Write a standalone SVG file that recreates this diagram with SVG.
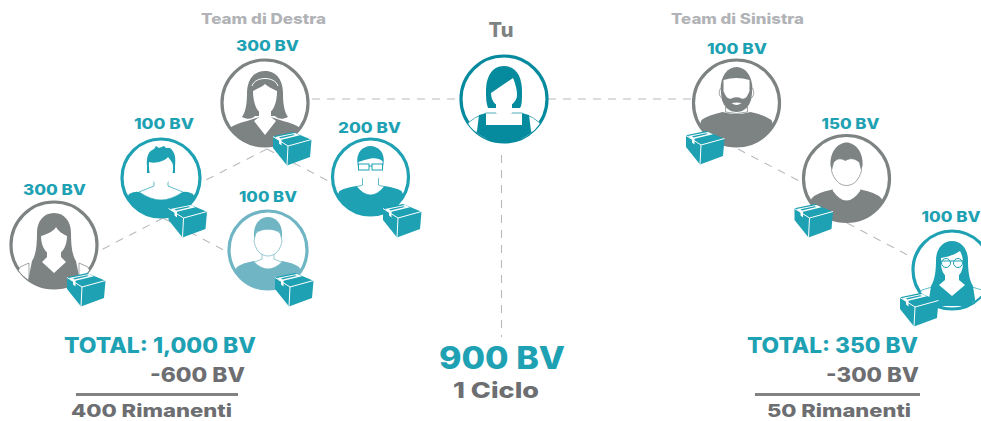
<svg xmlns="http://www.w3.org/2000/svg" xmlns:xlink="http://www.w3.org/1999/xlink" width="981" height="421" viewBox="0 0 981 421">
<style>
text{font-family:Inter,"Liberation Sans",sans-serif;font-weight:800}
.bv{font-size:15px;fill:#1da1b3}
.team{font-size:14.5px;fill:#b1b3b6}
.tot{font-size:21px;fill:#1da1b3}
.sub{font-size:20px;fill:#6d6e71}
.rem{font-size:18px;fill:#6d6e71}
.ring{fill:#fff;stroke-width:3.2}
.dash{stroke:#b8babc;stroke-width:1.1;stroke-dasharray:8 7;fill:none}
.rule{stroke:#808284;stroke-width:3}
.w{fill:#fff}
.ln{fill:#fff;stroke:currentColor;stroke-width:.7}
.grey{color:#7d8282;fill:#7d8282}.grey .ring{stroke:#7d8282}
.teal{color:#1da1b3;fill:#1da1b3}.teal .ring{stroke:#1da1b3}
.light{color:#6fb5c4;fill:#6fb5c4}.light .ring{stroke:#6fb5c4}
.dark{color:#058a9e;fill:#058a9e}.dark .ring{stroke:#058a9e}
</style>
<defs>
<clipPath id="c44"><circle r="43.5"/></clipPath>
<clipPath id="c39"><circle r="38.5"/></clipPath>
<g id="box">
<path fill="#1da1b3" d="M0 4.3 20 0 38.5 7.7 37 25 14 33.5 0 16Z"/>
<path fill="none" stroke="#fff" stroke-width="1" d="M0 4.5 15 14 38.5 7.5M15 14 14 33.5"/>
<path fill="#fff" d="M2 5 22 1 27 3.2 8.5 7.8 8.5 13.5 6 11.5V8.3Z"/>
<path fill="#1da1b3" d="M6 5.3 20 2.3 22 3 7.5 6.5Z"/>
</g>
</defs>

<g id="connectors">
<path class="dash" d="M312 99H459"/>
<path class="dash" d="M548 99H692"/>
<path class="dash" d="M501.500 155V337"/>
<path class="dash" d="M267 149 200 183"/>
<path class="dash" d="M267 149 332 183"/>
<path class="dash" d="M163 218 97 252"/>
<path class="dash" d="M163 218 229 253"/>
<path class="dash" d="M738 149 803 183"/>
<path class="dash" d="M847 223 913 258"/>
</g>

<g id="node-tu">
<text x="501" y="37" text-anchor="middle" style="font-size:20px;fill:#7d8282">Tu</text>
<g class="dark" transform="translate(504 99)">
<circle class="ring" r="43"/>
<g clip-path="url(#c44)">
<path class="ln" d="M-36 24Q-30 18-18 14L18 14Q30 18 36 24L36 40H-36Z"/>
<path d="M-25 16-18 14.500V26H18V14.500L25 16 27 32 36 44H-36L-27 32Z"/>
<path d="M0-33C13-33 18-21 18-8 18 0 18 6 16 9L-16 9C-18 4-18-2-18-8-18-21-13-33 0-33Z"/>
<path class="w" d="M-8 5V14L0 19 8 14V5Z"/>
<path class="w" d="M-13-6 9-21C12-14 13-8 13-4 13 3 6 8 0 8-7 8-13 3-13-6Z"/>
</g>
</g>
</g>

<g id="node-left-top">
<text class="bv" x="267.500" y="51" text-anchor="middle" textLength="63" lengthAdjust="spacingAndGlyphs">300 BV</text>
<g class="grey" transform="translate(265 103)">
<circle class="ring" r="43"/>
<g clip-path="url(#c44)">
<path d="M-35 25Q-30 21-18 18L-6 14H6L18 18Q30 21 35 25L42 44H-42Z"/>
<path d="M0-32C12-32 18-22 18-10 18 0 19 8 23 14 17 17 13 16 10 13H-10C-13 16-17 17-23 14-19 8-18 0-18-10-18-22-12-32 0-32Z"/>
<path class="w" d="M-6 6H6V14L11 18 0 32-11 18-6 14Z"/>
<path class="w" d="M-12-12C-6-15-2-17 0-19 2-17 6-15 12-12 12 0 8 11 0 11-8 11-12 0-12-12Z"/>
<path fill="none" stroke="#fff" stroke-width="1" d="M-13-17C-10-27 10-27 13-17"/>
</g>
</g>
<use xlink:href="#box" href="#box" x="273" y="132"/>
</g>

<g id="node-left-mid">
<text class="bv" x="164" y="128.500" text-anchor="middle" textLength="60" lengthAdjust="spacingAndGlyphs">100 BV</text>
<g class="teal" transform="translate(161 178)">
<circle class="ring" r="39"/>
<g clip-path="url(#c39)">
<path d="M-32 16Q-26 13-22 14Q-10 22 0 22 10 22 22 14Q26 13 32 16L44 40H-44Z"/>
<path class="ln" d="M-7 2V8L-22 14Q-10 22 0 22 10 22 22 14L7 8V2Z"/>
<path d="M-14-12C-15-22-12-27-7-29L-5-32-2-30 3-32 5-30 9-30C14-26 15-20 14-12L14-5H-14Z"/>
<path class="w" d="M-12-16C-6-14 4-17 7-21 9-18 12-16 12-12 13 0 6 7 0 7-6 7-13 0-12-16Z"/>
</g>
</g>
<use xlink:href="#box" href="#box" x="168.500" y="204"/>
</g>

<g id="node-left-far">
<text class="bv" x="54.500" y="195" text-anchor="middle" textLength="63" lengthAdjust="spacingAndGlyphs">300 BV</text>
<g class="grey" transform="translate(54 245)">
<circle class="ring" r="43"/>
<g clip-path="url(#c44)">
<path class="ln" d="M-34 22-25 18V44H-44ZM34 22 25 18V44H44Z"/>
<path d="M0-32C11-32 17-23 17-12 17 0 18 10 22 16L26 36V44H-26V36L-22 16C-18 10-17 0-17-12-17-23-11-32 0-32Z"/>
<path class="w" d="M-7 6H7V12L12 17 0 28-12 17-7 12Z"/>
<path class="w" d="M-13-9C-6-11 0-14 2-18 5-13 9-11 13-9 13 3 7 10 0 10-7 10-13 3-13-9Z"/>
</g>
</g>
<use xlink:href="#box" href="#box" x="67" y="273"/>
</g>

<g id="node-left-low">
<text class="bv" x="268" y="202" text-anchor="middle" textLength="58" lengthAdjust="spacingAndGlyphs">100 BV</text>
<g class="light" transform="translate(268 250)">
<circle class="ring" r="39"/>
<g clip-path="url(#c39)">
<path d="M-31 17Q-26 13-14 11 0 24 14 11 26 13 31 17L44 40H-44Z"/>
<path class="ln" d="M-6 1V9Q-10 11-14 12-7 19 0 19 7 19 14 12 10 11 6 9V1Z"/>
<path d="M-14-13C-15-26-8-33 0-33 8-33 15-26 14-13L13-8H-13Z"/>
<path class="ln" d="M-14-10-12-17C-6-22 6-22 12-17L14-10C13 0 7 6 0 6-7 6-13 0-14-10Z"/>
</g>
</g>
<use xlink:href="#box" href="#box" x="275" y="273"/>
</g>

<g id="node-left-right">
<text class="bv" x="369.500" y="133" text-anchor="middle" textLength="63" lengthAdjust="spacingAndGlyphs">200 BV</text>
<g class="teal" transform="translate(370.500 177)">
<circle class="ring" r="38"/>
<g clip-path="url(#c39)">
<path d="M-31 14Q-26 11-14 9 0 20 14 9 26 11 31 14L44 40H-44Z"/>
<path class="ln" d="M-8 1V8Q-10 9-14 9.500-7 18 0 18 7 18 14 9.500 10 9 8 8V1Z"/>
<path d="M-13-13C-15-25-7-31 0-31 7-31 15-25 13-13L12-8H-12Z"/>
<path class="w" d="M-12-15C-6-17 5-22 12-16 13-4 7 6 0 6-7 6-13-4-12-15Z"/>
<rect x="-12" y="-13" width="10.500" height="6" fill="none" stroke="currentColor" stroke-width="1"/>
<rect x="1.500" y="-13" width="10.500" height="6" fill="none" stroke="currentColor" stroke-width="1"/>
<path fill="none" stroke="currentColor" stroke-width="1" d="M-1.500-11H1.500"/>
</g>
</g>
<use xlink:href="#box" href="#box" x="383" y="204"/>
</g>

<g id="node-right-top">
<text class="bv" x="737" y="54" text-anchor="middle" textLength="60" lengthAdjust="spacingAndGlyphs">100 BV</text>
<g class="grey" transform="translate(736.500 103)">
<circle class="ring" r="43"/>
<g clip-path="url(#c44)">
<path d="M-35 17Q-28 12-14 9 0 13 14 9 28 12 35 17L44 44H-44Z"/>
<path class="ln" d="M-11 4V9Q0 12 11 9V4Z"/>
<path d="M-16-13C-16-27-9-36 0-36 9-36 16-27 16-13 16-2 11 9 0 9-11 9-16-2-16-13Z"/>
<path class="w" d="M-13-23Q0-27 13-23V-12Q10-3 5-4.500 0-7-5-4.500-10-3-13-12Z"/>
<path class="w" d="M-5 0Q0-1 5 0 0 4-5 0Z"/>
<path class="ln" d="M-16-15Q-19-9-15-5M16-15Q19-9 15-5"/>
</g>
</g>
<use xlink:href="#box" href="#box" x="686" y="131"/>
</g>

<g id="node-right-mid">
<text class="bv" x="850.500" y="129" text-anchor="middle" textLength="58" lengthAdjust="spacingAndGlyphs">150 BV</text>
<g class="grey" transform="translate(846.500 178.500)">
<circle class="ring" r="43"/>
<g clip-path="url(#c44)">
<path d="M-35 20Q-30 14-14 11 0 28 14 11 30 14 35 20L44 44H-44Z"/>
<path class="w" d="M-8 2V9Q-10 11-14 12-7 22 0 22 7 22 14 12 10 11 8 9V2Z"/>
<path d="M-16-13C-17-27-8-36 0-36 8-36 17-27 16-13L14-6H-14Z"/>
<path class="ln" d="M-15-8-13-16C-8-22-4-19-1-18 4-21 9-20 13-16L15-8C13 0 8 7 0 7-8 7-13 0-15-8Z"/>
</g>
</g>
<use xlink:href="#box" href="#box" x="794.500" y="204"/>
</g>

<g id="node-right-far">
<text class="bv" x="951" y="222" text-anchor="middle" textLength="59" lengthAdjust="spacingAndGlyphs">100 BV</text>
<g class="teal" transform="translate(952 270)">
<circle class="ring" r="39"/>
<g clip-path="url(#c39)">
<path class="ln" d="M-30 20-20 17V40H-44ZM30 20 20 17V40H44Z"/>
<path d="M0-29C10-29 16-20 16-10 16 0 17 10 21 16L24 36H-24L-21 16C-17 10-16 0-16-10-16-20-10-29 0-29Z"/>
<path class="w" d="M-7 4H7V10L13 15 0 26-13 15-7 10Z"/>
<path class="w" d="M-11-12C-4-13 4-16 8-19 10-15 11-12 11-7 11 3 6 8 0 8-6 8-11 3-11-7Z"/>
<path fill="none" stroke="currentColor" stroke-width="1" d="M-13-9H13"/>
<circle cx="-6" cy="-7" r="4.500" fill="none" stroke="currentColor" stroke-width="1"/>
<circle cx="6" cy="-7" r="4.500" fill="none" stroke="currentColor" stroke-width="1"/>
</g>
</g>
<use xlink:href="#box" href="#box" x="900" y="293"/>
</g>

<g id="labels">
<text class="team" x="201" y="24" textLength="125" lengthAdjust="spacingAndGlyphs">Team di Destra</text>
<text class="team" x="671" y="24" textLength="133" lengthAdjust="spacingAndGlyphs">Team di Sinistra</text>
<text class="tot" x="64" y="353" textLength="192" lengthAdjust="spacingAndGlyphs">TOTAL: 1,000 BV</text>
<text class="sub" x="150" y="382" textLength="95" lengthAdjust="spacingAndGlyphs">-600 BV</text>
<path class="rule" d="M76 394.500H238"/>
<text class="rem" x="71" y="416.500" textLength="161" lengthAdjust="spacingAndGlyphs">400 Rimanenti</text>
<text x="439" y="369" textLength="126" lengthAdjust="spacingAndGlyphs" style="font-size:31px;fill:#1da1b3">900 BV</text>
<text x="453" y="398" textLength="86" lengthAdjust="spacingAndGlyphs" style="font-size:22px;fill:#6d6e71">1 Ciclo</text>
<text class="tot" x="747" y="353" textLength="171" lengthAdjust="spacingAndGlyphs">TOTAL: 350 BV</text>
<text class="sub" x="826" y="382" textLength="93" lengthAdjust="spacingAndGlyphs">-300 BV</text>
<path class="rule" d="M755 394.500H920"/>
<text class="rem" x="767" y="416.500" textLength="144" lengthAdjust="spacingAndGlyphs">50 Rimanenti</text>
</g>
</svg>
